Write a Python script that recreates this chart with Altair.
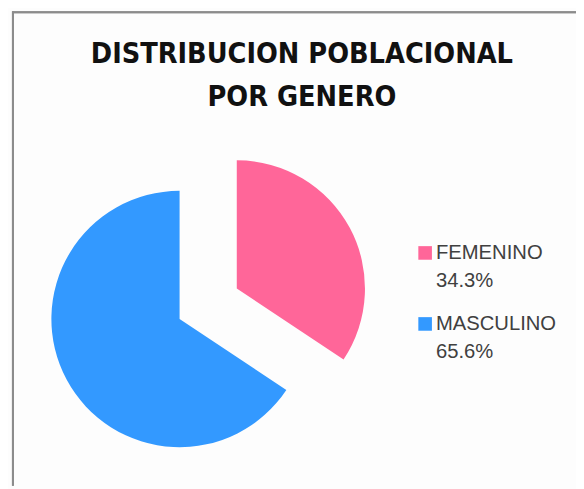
import altair as alt
import pandas as pd

# Data
generos = ["FEMENINO", "MASCULINO"]
valores = [34.3, 65.6]
colores = ["#FF6699", "#3399FF"]
titulo = ["DISTRIBUCION POBLACIONAL", "POR GENERO"]

total = sum(valores)
df = pd.DataFrame({"genero": generos, "valor": valores, "idx": list(range(len(generos)))})
df_title = pd.DataFrame({"linea": titulo, "i": list(range(len(titulo)))})

W, H = 576, 481
R = 130

color = alt.Color("genero:N",
                  scale=alt.Scale(domain=generos, range=colores),
                  legend=None)

base = alt.Chart(df).transform_window(
    fin="sum(valor)", frame=[None, 0]
).transform_calculate(
    inicio="datum.fin - datum.valor"
)

theta_scale = alt.Scale(domain=[0, total], range=[0, 6.283185307179586])

def slice_layer(name, cx, cy):
    return base.transform_filter(alt.datum.genero == name).mark_arc(
        radius=R, stroke=None
    ).encode(
        theta=alt.Theta("inicio:Q", scale=theta_scale, stack=None),
        theta2=alt.Theta2("fin:Q"),
        color=color,
        x=alt.value(cx),
        y=alt.value(cy),
    )

fem = slice_layer("FEMENINO", 232, 281)
mas = slice_layer("MASCULINO", 174, 312)

legend_y = alt.Y("idx:Q", axis=None,
                 scale=alt.Scale(domain=[0, 1], range=[245, 317]))

squares = alt.Chart(df).mark_square(size=190, opacity=1).encode(
    x=alt.value(423),
    y=legend_y,
    color=color,
)

labels = alt.Chart(df).transform_calculate(
    lineas="[datum.genero, format(datum.valor, '.1f') + '%']"
).mark_text(
    align="left", baseline="alphabetic", dy=6,
    font="Liberation Sans", fontSize=20.5, lineHeight=29, color="#404040"
).encode(
    x=alt.value(434),
    y=legend_y,
    text=alt.Text("lineas:N"),
)

title_y = alt.Y("i:Q", axis=None, scale=alt.Scale(domain=[0, 1], range=[52, 96]))
title_marks = alt.Chart(df_title).mark_text(
    align="center", baseline="alphabetic",
    font="DejaVu Sans Condensed, sans-serif",
    fontWeight="bold", fontSize=29, color="#111111"
).encode(
    x=alt.value(298),
    y=title_y,
    text="linea:N",
)

border_v = alt.Chart(df_title).mark_rule(color="#8c8c8c", strokeWidth=2).encode(
    x=alt.value(5), y=alt.value(0), y2=alt.value(H)
)
border_h = alt.Chart(df_title).mark_rule(color="#8c8c8c", strokeWidth=2).encode(
    x=alt.value(5), x2=alt.value(W), y=alt.value(1)
)

chart = alt.layer(
    border_v, border_h, title_marks, mas, fem, squares, labels
).resolve_scale(y="independent").properties(
    width=W, height=H, padding=0, autosize="none", background="#FDFDFD"
).configure_view(stroke=None)

chart.save("out.html", embed_options={"renderer": "svg", "actions": False})
